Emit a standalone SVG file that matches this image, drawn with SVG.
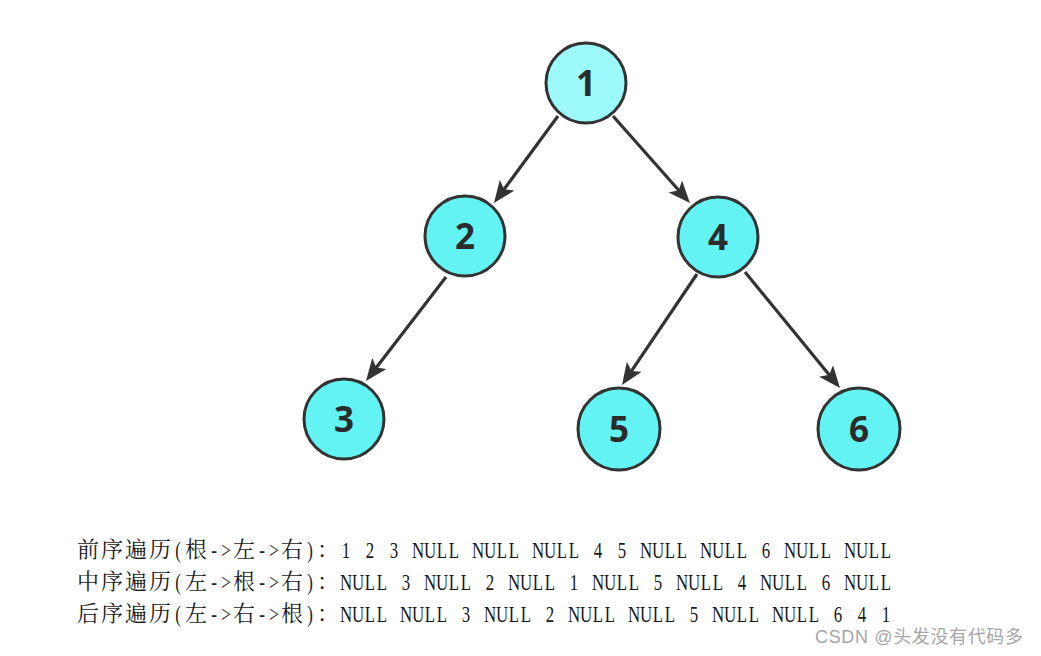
<svg xmlns="http://www.w3.org/2000/svg" width="1041" height="656" viewBox="0 0 1041 656">
<style>
.node circle{stroke:#333;stroke-width:3;fill:#63f3f3}
#n1 circle{fill:#9cfafa}
.node text{font-family:"Open Sans","DejaVu Sans",sans-serif;font-weight:700;font-size:35px;fill:#2b2b2b;text-anchor:middle}
.edge{stroke:#333;stroke-width:3.2;fill:none;marker-end:url(#arr)}
.cjk{font-family:"Noto Serif CJK SC","Noto Sans CJK SC",serif;font-size:22px;fill:#1a1a1a;text-anchor:middle}
.asc{font-family:"Liberation Serif",serif;font-size:22.5px;fill:#1a1a1a;text-anchor:middle}
.wm{font-family:"Liberation Sans","Noto Sans CJK SC",sans-serif;font-size:18px;fill:#a6a6a6}
</style>
<defs>
<marker id="arr" markerUnits="userSpaceOnUse" markerWidth="24" markerHeight="20" viewBox="0 0 24 20" refX="10" refY="9" orient="auto">
<path d="M0,0 L22,9 L0,18 L5,9 z" fill="#333"/>
</marker>
</defs>
<rect width="1041" height="656" fill="#fff"/>
<g id="connectors">
<line class="edge" x1="558" y1="116" x2="501.1" y2="193.3"/>
<line class="edge" x1="613" y1="116" x2="682.0" y2="194.0"/>
<line class="edge" x1="446" y1="277" x2="373.3" y2="371.5"/>
<line class="edge" x1="697" y1="274" x2="628.7" y2="375.1"/>
<line class="edge" x1="745" y1="272" x2="832.4" y2="378.7"/>
</g>
<g id="n1" class="node"><circle cx="586" cy="83" r="40"/><text x="586" y="96">1</text></g>
<g id="n2" class="node"><circle cx="465" cy="236" r="40"/><text x="465" y="249">2</text></g>
<g id="n4" class="node"><circle cx="718" cy="237" r="40"/><text x="718" y="250">4</text></g>
<g id="n3" class="node"><circle cx="344" cy="419" r="40"/><text x="344" y="432">3</text></g>
<g id="n5" class="node"><circle cx="619" cy="429" r="41"/><text x="619" y="442">5</text></g>
<g id="n6" class="node"><circle cx="859" cy="429" r="41"/><text x="859" y="442">6</text></g>
<g id="preorder">
<text class="cjk" y="557" x="88 112 136 160">前序遍历</text>
<text class="asc" y="558" x="0" transform="matrix(0.75,0,0,1,178,0)">(</text>
<text class="cjk" y="557" x="196">根</text>
<text class="asc" y="558" x="0 16" transform="matrix(0.75,0,0,1,214,0)">-&gt;</text>
<text class="cjk" y="557" x="244">左</text>
<text class="asc" y="558" x="0 16" transform="matrix(0.75,0,0,1,262,0)">-&gt;</text>
<text class="cjk" y="557" x="292">右</text>
<text class="asc" y="558" x="0" transform="matrix(0.75,0,0,1,310,0)">)</text>
<text class="cjk" y="557" x="328">：</text>
<text class="asc" y="558" transform="matrix(0.75,0,0,1,346,0)" x="0 16 32 48 64 80 96 112 128 144 160 176 192 208 224 240 256 272 288 304 320 336 352 368 384 400 416 432 448 464 480 496 512 528 544 560 576 592 608 624 640 656 672 688 704 720">1 2 3 NULL NULL NULL 4 5 NULL NULL 6 NULL NULL</text>
</g>
<g id="inorder">
<text class="cjk" y="589" x="88 112 136 160">中序遍历</text>
<text class="asc" y="590" x="0" transform="matrix(0.75,0,0,1,178,0)">(</text>
<text class="cjk" y="589" x="196">左</text>
<text class="asc" y="590" x="0 16" transform="matrix(0.75,0,0,1,214,0)">-&gt;</text>
<text class="cjk" y="589" x="244">根</text>
<text class="asc" y="590" x="0 16" transform="matrix(0.75,0,0,1,262,0)">-&gt;</text>
<text class="cjk" y="589" x="292">右</text>
<text class="asc" y="590" x="0" transform="matrix(0.75,0,0,1,310,0)">)</text>
<text class="cjk" y="589" x="328">：</text>
<text class="asc" y="590" transform="matrix(0.75,0,0,1,346,0)" x="0 16 32 48 64 80 96 112 128 144 160 176 192 208 224 240 256 272 288 304 320 336 352 368 384 400 416 432 448 464 480 496 512 528 544 560 576 592 608 624 640 656 672 688 704 720">NULL 3 NULL 2 NULL 1 NULL 5 NULL 4 NULL 6 NULL</text>
</g>
<g id="postorder">
<text class="cjk" y="621" x="88 112 136 160">后序遍历</text>
<text class="asc" y="622" x="0" transform="matrix(0.75,0,0,1,178,0)">(</text>
<text class="cjk" y="621" x="196">左</text>
<text class="asc" y="622" x="0 16" transform="matrix(0.75,0,0,1,214,0)">-&gt;</text>
<text class="cjk" y="621" x="244">右</text>
<text class="asc" y="622" x="0 16" transform="matrix(0.75,0,0,1,262,0)">-&gt;</text>
<text class="cjk" y="621" x="292">根</text>
<text class="asc" y="622" x="0" transform="matrix(0.75,0,0,1,310,0)">)</text>
<text class="cjk" y="621" x="328">：</text>
<text class="asc" y="622" transform="matrix(0.75,0,0,1,346,0)" x="0 16 32 48 64 80 96 112 128 144 160 176 192 208 224 240 256 272 288 304 320 336 352 368 384 400 416 432 448 464 480 496 512 528 544 560 576 592 608 624 640 656 672 688 704 720">NULL NULL 3 NULL 2 NULL NULL 5 NULL NULL 6 4 1</text>
</g>
<text class="wm" x="815" y="643" textLength="208" lengthAdjust="spacing">CSDN @头发没有代码多</text>
</svg>
